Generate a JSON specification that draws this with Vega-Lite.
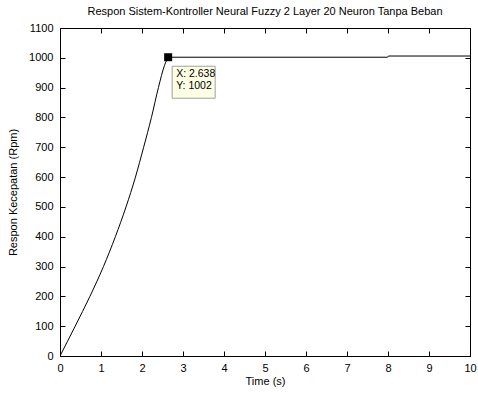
{
  "$schema": "https://vega.github.io/schema/vega-lite/v6.json",
  "width": 410,
  "height": 328,
  "autosize": "none",
  "padding": {"left": 60, "top": 28, "right": 8, "bottom": 39},
  "background": "white",
  "title": {
    "text": "Respon Sistem-Kontroller Neural Fuzzy 2 Layer 20 Neuron Tanpa Beban",
    "font": "Liberation Sans",
    "fontSize": 11,
    "fontWeight": "normal",
    "color": "black",
    "offset": 5,
    "anchor": "middle"
  },
  "config": {
    "view": {"stroke": "black", "strokeWidth": 1},
    "axis": {
      "labelFont": "Liberation Sans",
      "labelFontSize": 11,
      "labelColor": "black",
      "titleFont": "Liberation Sans",
      "titleFontSize": 11,
      "titleFontWeight": "normal",
      "titleColor": "black",
      "domainColor": "black",
      "tickColor": "black",
      "tickSize": -5,
      "grid": false
    }
  },
  "datasets": {
    "curve": [
      {"seg": "rise", "t": 0, "v": 0},
      {"seg": "rise", "t": 0.37, "v": 100},
      {"seg": "rise", "t": 0.73, "v": 200},
      {"seg": "rise", "t": 1.06, "v": 300},
      {"seg": "rise", "t": 1.35, "v": 400},
      {"seg": "rise", "t": 1.61, "v": 500},
      {"seg": "rise", "t": 1.84, "v": 600},
      {"seg": "rise", "t": 2.04, "v": 700},
      {"seg": "rise", "t": 2.23, "v": 800},
      {"seg": "rise", "t": 2.4, "v": 900},
      {"seg": "rise", "t": 2.55, "v": 975},
      {"seg": "rise", "t": 2.638, "v": 1002},
      {"seg": "hold", "t": 2.638, "v": 1002},
      {"seg": "hold", "t": 5, "v": 1002},
      {"seg": "hold", "t": 7.99, "v": 1002},
      {"seg": "hold", "t": 8.01, "v": 1006},
      {"seg": "hold", "t": 10, "v": 1006}
    ],
    "tip": [
      {"t": 2.638, "v": 1002, "label": ["X: 2.638", "Y: 1002"]}
    ]
  },
  "layer": [
    {
      "data": {"name": "curve"},
      "mark": {"type": "line", "color": "black", "strokeWidth": 1, "clip": true, "interpolate": "monotone"},
      "encoding": {
        "detail": {"field": "seg"},
        "x": {
          "field": "t", "type": "quantitative",
          "scale": {"domain": [0, 10], "nice": false, "zero": false},
          "axis": {"orient": "bottom", "values": [0,1,2,3,4,5,6,7,8,9,10], "format": "d", "title": "Time (s)", "labelPadding": 11, "titlePadding": 2, "labelFlush": false}
        },
        "y": {
          "field": "v", "type": "quantitative",
          "scale": {"domain": [0, 1100], "nice": false, "zero": false},
          "axis": {"orient": "left", "values": [0,100,200,300,400,500,600,700,800,900,1000,1100], "format": "d", "title": "Respon Kecepatan (Rpm)", "labelPadding": 12, "titlePadding": 10, "labelFlush": false}
        }
      }
    },
    {
      "data": {"name": "tip"},
      "mark": {"type": "rect", "fill": "#ffffe6", "stroke": "#a0a0a0", "strokeWidth": 1, "xOffset": 4, "x2Offset": 47, "yOffset": 9, "y2Offset": 41},
      "encoding": {
        "x": {"field": "t", "type": "quantitative", "axis": {"orient": "top", "values": [0,1,2,3,4,5,6,7,8,9,10], "labels": false, "title": null}},
        "x2": {"field": "t"},
        "y": {"field": "v", "type": "quantitative", "axis": {"orient": "right", "values": [0,100,200,300,400,500,600,700,800,900,1000,1100], "labels": false, "title": null}},
        "y2": {"field": "v"}
      }
    },
    {
      "data": {"name": "tip"},
      "mark": {"type": "point", "shape": "square", "filled": true, "color": "black", "size": 64, "opacity": 1},
      "encoding": {
        "x": {"field": "t", "type": "quantitative", "axis": null},
        "y": {"field": "v", "type": "quantitative", "axis": null}
      }
    },
    {
      "data": {"name": "tip"},
      "mark": {"type": "text", "align": "left", "baseline": "top", "dx": 8, "dy": 12, "font": "Liberation Sans", "fontSize": 10.5, "lineHeight": 11.5, "color": "black"},
      "encoding": {
        "x": {"field": "t", "type": "quantitative", "axis": null},
        "y": {"field": "v", "type": "quantitative", "axis": null},
        "text": {"field": "label"}
      }
    }
  ],
  "resolve": {"axis": {"x": "independent", "y": "independent"}}
}
